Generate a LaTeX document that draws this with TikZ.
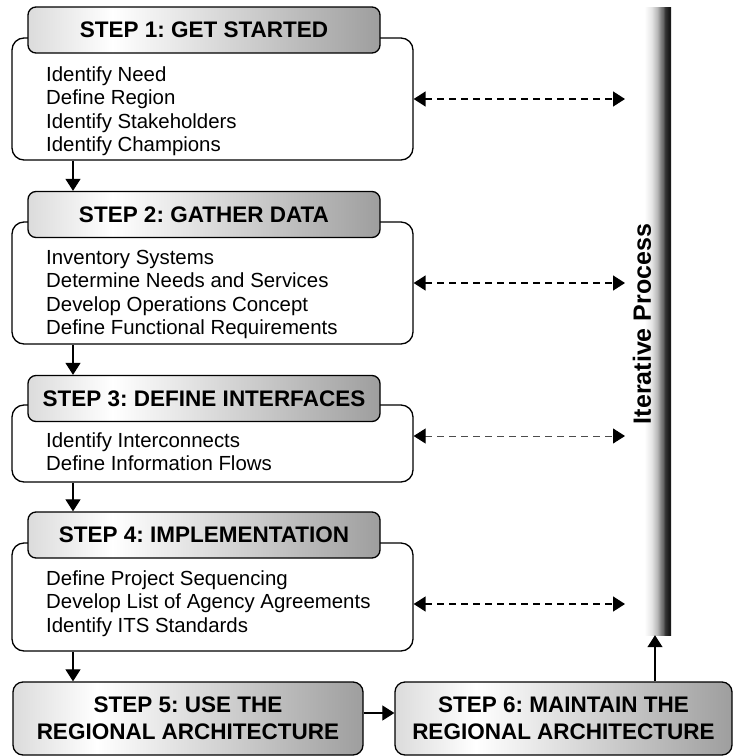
\documentclass[tikz,border=0pt]{standalone}
\usepackage{fontspec}
\setmainfont{Liberation Sans}
\usetikzlibrary{arrows.meta}
\frenchspacing
\pgfdeclarehorizontalshading{hdrshade}{100bp}{color(0bp)=(black!14); color(25bp)=(black!14); color(37bp)=(white); color(75bp)=(black!38); color(100bp)=(black!38)}
\pgfdeclarehorizontalshading{barshade}{100bp}{color(0bp)=(white); color(25bp)=(white); color(38bp)=(white); color(48bp)=(black!10); color(56bp)=(black!28); color(61bp)=(black!50); color(64bp)=(black!60); color(67bp)=(black!80); color(72bp)=(black!90); color(75bp)=(black!90); color(100bp)=(black!90)}
\begin{document}
\begin{tikzpicture}[x=1pt,y=-1pt,
  bodybox/.style={draw=black, line width=1.3pt, fill=white, rounded corners=12pt, inner sep=0pt},
  hdr/.style={draw=black, line width=1.3pt, shading=hdrshade, rounded corners=8pt, inner sep=0pt,
    minimum width=352pt, minimum height=46pt, font=\fontsize{22.5}{27}\selectfont\bfseries},
  bigstep/.style={draw=black, line width=1.3pt, shading=hdrshade, rounded corners=10pt, inner sep=0pt,
    minimum height=73pt, align=center, font=\fontsize{22.5}{27}\selectfont\bfseries},
  item/.style={anchor=base west, inner sep=0pt, font=\fontsize{20.4}{24}\selectfont},
  barbox/.style={shading=barshade, inner sep=0pt, minimum width=36pt, minimum height=628pt},
  solidarrow/.style={line width=1.2pt, -{Triangle[length=12pt,width=15pt]}},
  dasharrow/.style={line width=1.4pt, dash pattern=on 7pt off 5pt,
    {Triangle[length=12pt,width=15pt]}-{Triangle[length=12pt,width=15pt]}},
  lightdash/.style={line width=1pt, draw=black!70, dash pattern=on 7pt off 5pt,
    {Triangle[length=12pt,width=15pt,color=black]}-{Triangle[length=12pt,width=15pt,color=black]}}
]
\useasboundingbox (0,0) rectangle (733,756);

% iterative process bar
\node[barbox] (bar) at (653,321) {};
\node[rotate=90, inner sep=0pt, font=\fontsize{25}{30}\selectfont\bfseries] (itp) at (642,324) {Iterative Process};

% step 1
\node[bodybox, minimum width=401pt, minimum height=122pt] (b1) at (212.5,99) {};
\node[hdr] (h1) at (204,30) {STEP 1: GET STARTED};
\node[item] (t1a) at (46,81) {Identify Need};
\node[item] (t1b) at (46,104.5) {Define Region};
\node[item] (t1c) at (46,128) {Identify Stakeholders};
\node[item] (t1d) at (46,151.5) {Identify Champions};

% step 2
\node[bodybox, minimum width=401pt, minimum height=122pt] (b2) at (212.5,283) {};
\node[hdr] (h2) at (204,214.5) {STEP 2: GATHER DATA};
\node[item] (t2a) at (46,264) {Inventory Systems};
\node[item] (t2b) at (46,287.5) {Determine Needs and Services};
\node[item] (t2c) at (46,311) {Develop Operations Concept};
\node[item] (t2d) at (46,334.5) {Define Functional Requirements};

% step 3
\node[bodybox, minimum width=401pt, minimum height=77pt] (b3) at (212.5,443.5) {};
\node[hdr] (h3) at (204,398.5) {STEP 3: DEFINE INTERFACES};
\node[item] (t3a) at (46,447) {Identify Interconnects};
\node[item] (t3b) at (46,470.5) {Define Information Flows};

% step 4
\node[bodybox, minimum width=401pt, minimum height=108pt] (b4) at (212.5,597) {};
\node[hdr] (h4) at (204,535) {STEP 4: IMPLEMENTATION};
\node[item] (t4a) at (46,585) {Define Project Sequencing};
\node[item] (t4b) at (46,608.5) {Develop List of Agency Agreements};
\node[item] (t4c) at (46,632) {Identify ITS Standards};

% steps 5 and 6
\node[bigstep, minimum width=350pt] (s5) at (188,718.5) {STEP 5: USE THE\\REGIONAL ARCHITECTURE};
\node[bigstep, minimum width=337pt] (s6) at (563.5,718.5) {STEP 6: MAINTAIN THE\\REGIONAL ARCHITECTURE};

% downward arrows
\coordinate (dx) at (73,0);
\draw[solidarrow] (b1.south -| dx) -- (h2.north -| dx);
\draw[solidarrow] (b2.south -| dx) -- (h3.north -| dx);
\draw[solidarrow] (b3.south -| dx) -- (h4.north -| dx);
\draw[solidarrow] (b4.south -| dx) -- (s5.north -| dx);

% step 5 -> step 6
\coordinate (hy) at (0,713);
\draw[solidarrow] (s5.east |- hy) -- (s6.west |- hy);

% step 6 -> bar
\coordinate (ux) at (655,0);
\draw[solidarrow] (s6.north -| ux) -- (bar.south -| ux);

% iterative dashed arrows
\coordinate (e1) at (625,99);
\coordinate (e2) at (625,283);
\coordinate (e3) at (625,436);
\coordinate (e4) at (625,604);
\draw[dasharrow] (b1.east |- e1) -- (e1);
\draw[dasharrow] (b2.east |- e2) -- (e2);
\draw[lightdash] (b3.east |- e3) -- (e3);
\draw[dasharrow] (b4.east |- e4) -- (e4);
\end{tikzpicture}
\end{document}
